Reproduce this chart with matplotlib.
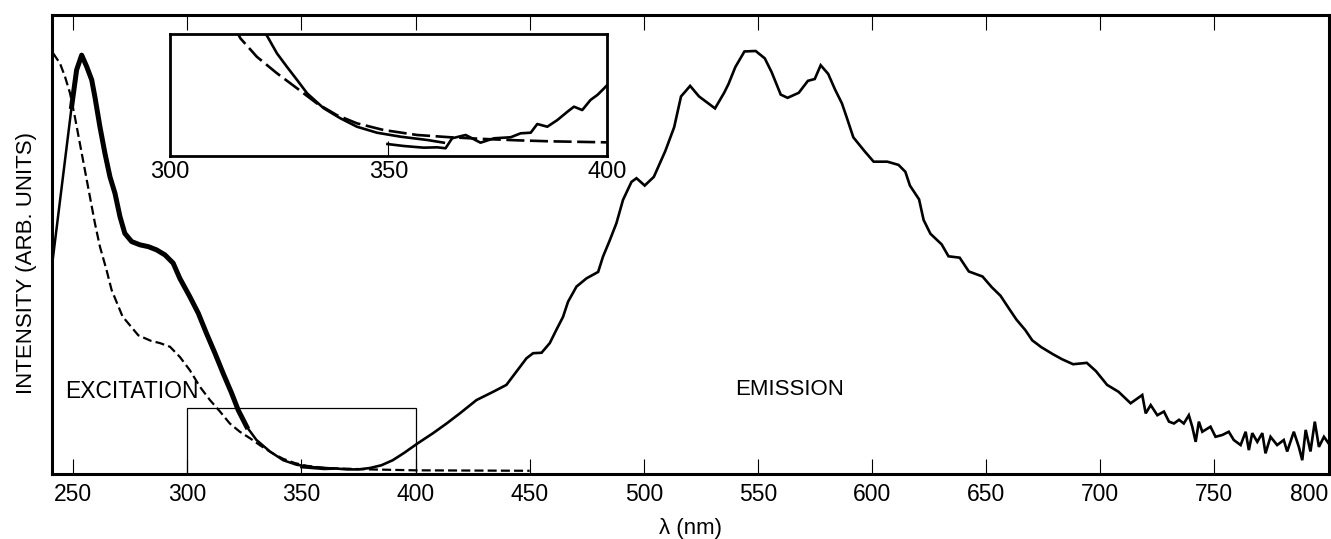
import matplotlib
matplotlib.use("Agg")
import matplotlib.pyplot as plt
from matplotlib.patches import Rectangle
import numpy as np

plt.rcParams['font.family'] = ['Liberation Sans', 'DejaVu Sans']
plt.rcParams['lines.scale_dashes'] = False

# ---------------- data ----------------
# Excitation spectrum, solid trace (nm, arb. units)
exc_solid_nm = [241.0, 249.3, 251.5, 253.7, 255.9, 258.1, 259.5, 261.7, 263.9, 266.1,
                268.3, 270.5, 272.6, 275.6, 279.2, 282.9, 286.5, 290.2, 293.8, 296.7,
                301.1, 304.8, 308.4, 312.1, 315.7, 319.4, 322.3, 326.0, 330.3, 336.2,
                342.0, 347.9, 355.1, 363.9]
exc_solid_val = [46.6, 80.0, 88.0, 91.2, 88.7, 85.8, 82.1, 75.6, 69.8, 64.7,
                 61.1, 56.0, 52.4, 50.6, 49.9, 49.5, 48.8, 47.7, 45.9, 42.6,
                 38.6, 35.0, 30.6, 26.3, 21.9, 17.6, 13.9, 10.3, 7.4, 4.9,
                 3.0, 2.0, 1.5, 1.2]

# Excitation spectrum, dashed trace
exc_dash_nm = [241.2, 244.2, 246.4, 248.6, 250.7, 252.9, 255.1, 257.3, 259.5, 261.7,
               264.6, 266.8, 271.6, 278.5, 284.0, 288.0, 292.4, 296.7, 301.1, 305.5,
               309.9, 314.3, 318.6, 323.0, 327.4, 332.0, 337.0, 342.0, 347.0, 352.0,
               360.0, 380.0, 400.0, 450.0]
exc_dash_val = [91.6, 89.4, 86.5, 82.9, 77.8, 72.0, 66.2, 60.4, 54.6, 49.5,
                44.4, 40.1, 34.3, 30.2, 29.0, 28.5, 27.7, 25.5, 22.6, 19.0,
                16.1, 13.6, 11.0, 9.2, 7.8, 6.2, 4.6, 3.3, 2.4, 1.8,
                1.3, 1.0, 0.8, 0.7]

# Emission spectrum
em_nm = [350.0, 355.0, 360.0, 365.0, 370.0, 375.0, 380.0, 385.0, 390.0, 395.0,
         401.0, 407.7, 413.6, 419.4, 426.7, 434.0, 439.8, 444.2, 448.6, 451.5,
         455.2, 458.8, 461.7, 464.6, 466.8, 470.5, 474.9, 480.0, 482.1, 485.1,
         488.0, 490.9, 494.6, 496.8, 500.4, 504.4, 509.4, 513.3, 516.3, 520.3,
         524.2, 528.2, 531.2, 535.2, 537.1, 540.1, 544.1, 549.0, 553.0, 556.0,
         560.0, 563.0, 567.9, 571.9, 574.9, 577.5, 580.8, 583.8, 586.8, 588.8,
         591.8, 596.7, 600.7, 606.7, 611.6, 614.6, 616.6, 620.6, 622.6, 625.6,
         630.5, 633.5, 638.4, 642.4, 648.4, 652.4, 656.3, 660.3, 663.3, 667.2,
         670.2, 674.2, 679.2, 683.2, 688.1, 694.1, 698.1, 703.0, 708.0, 713.3,
         718.4, 719.9, 722.1, 725.0, 727.9, 730.1, 732.3, 734.5, 736.6, 738.8,
         740.3, 741.8, 743.2, 744.7, 748.3, 750.5, 753.5, 756.3, 758.5, 761.5,
         763.7, 765.1, 766.6, 768.8, 771.0, 772.4, 774.6, 777.5, 780.4, 781.9,
         784.8, 787.0, 788.5, 790.0, 792.1, 794.0, 795.8, 798.0, 800.0]
em_val = [1.5, 1.3, 1.1, 1.2, 1.0, 1.0, 1.3, 1.9, 3.0, 4.6,
          6.7, 8.9, 11.0, 13.2, 16.1, 17.9, 19.4, 22.3, 25.2, 26.3,
          26.4, 28.5, 31.4, 34.2, 37.5, 40.8, 42.6, 44.0, 47.3, 50.9,
          54.6, 59.7, 63.6, 64.4, 62.8, 64.7, 70.3, 75.5, 82.2, 84.5,
          82.2, 80.7, 79.6, 83.0, 84.9, 88.6, 92.0, 92.1, 90.5, 87.5,
          82.6, 81.9, 83.0, 85.6, 86.0, 89.0, 87.1, 83.7, 80.7, 77.8,
          73.3, 70.3, 68.0, 68.0, 67.3, 65.8, 62.8, 59.8, 55.3, 52.3,
          50.0, 47.4, 47.1, 44.1, 43.0, 40.7, 38.8, 35.8, 33.6, 31.3,
          29.1, 27.6, 26.1, 25.0, 23.9, 24.2, 22.4, 19.4, 17.9, 15.4,
          17.2, 13.2, 15.0, 12.8, 13.6, 11.4, 11.0, 11.8, 11.0, 12.8,
          10.3, 7.0, 11.4, 9.2, 10.3, 8.1, 8.5, 9.2, 7.4, 6.3,
          9.2, 5.2, 8.9, 7.0, 8.9, 4.5, 8.1, 6.3, 7.4, 4.9,
          9.2, 5.9, 3.0, 9.6, 4.9, 11.4, 5.9, 8.1, 6.7]

# Inset (300-400 nm, expanded) traces
ins_exc_nm = [321.0, 322.2, 324.5, 326.8, 329.1, 331.4, 335.2, 339.0, 342.8, 347.4,
              352.8, 358.9, 362.7]
ins_exc_val = [15.5, 14.2, 12.1, 10.5, 8.96, 7.38, 5.61, 4.43, 3.43, 2.72,
               2.25, 1.86, 1.54]
ins_em_nm = [349.8, 353.5, 358.1, 361.2, 363.1, 364.6, 367.7, 371.1, 374.2, 378.0,
             380.3, 382.6, 384.1, 386.4, 388.7, 391.0, 392.5, 394.4, 396.3, 397.9,
             399.4, 400.0]
ins_em_val = [1.38, 1.15, 0.95, 0.99, 0.88, 2.06, 2.45, 1.54, 2.06, 2.18,
              2.65, 2.72, 3.75, 3.43, 4.22, 5.2, 5.8, 5.4, 6.6, 7.2,
              7.97, 8.3]
ins_dash_nm = [315.0, 316.1, 319.9, 324.5, 329.1, 333.6, 338.2, 342.8, 348.9, 356.6,
               364.2, 371.9, 379.5, 387.2, 399.0, 400.0]
ins_dash_val = [15.0, 13.9, 11.7, 9.75, 7.97, 6.2, 4.8, 3.83, 3.04, 2.45,
                2.18, 1.98, 1.82, 1.70, 1.59, 1.58]

x_ticks = [250, 300, 350, 400, 450, 500, 550, 600, 650, 700, 750, 800]
inset_ticks = [300, 350, 400]
inset_xlim = (300, 400)
inset_ylim = (0, 14.4)

# ---------------- figure ----------------
W, H = 1331, 539
fig = plt.figure(figsize=(W / 100, H / 100), dpi=100)
ax = fig.add_axes([52 / W, (H - 474) / H, (1328.5 - 52) / W, (474 - 14.7) / H])

ax.set_xlim(240.7, 800.0)
ax.set_ylim(0, 100)

exc_nm = np.array(exc_solid_nm)
exc_v = np.array(exc_solid_val)
ax.plot(exc_nm, exc_v, color='black', lw=1.8, solid_joinstyle='round')
band = (exc_nm >= 249) & (exc_nm <= 330)
ax.plot(exc_nm[band], exc_v[band], color='black', lw=3.6, solid_joinstyle='round')

ld, = ax.plot(exc_dash_nm, exc_dash_val, color='black', lw=1.6)
ld.set_dashes([6.5, 3.0])

ax.plot(em_nm, em_val, color='black', lw=1.9, solid_joinstyle='miter')

ax.add_patch(Rectangle((inset_xlim[0], inset_ylim[0]), inset_xlim[1] - inset_xlim[0],
                       inset_ylim[1] - inset_ylim[0], fill=False, lw=0.9,
                       edgecolor='black'))

ax.text(246.4, 17.9, 'EXCITATION', fontsize=16.5, ha='left', va='center')
ax.text(563.7, 18.4, 'EMISSION', fontsize=16, ha='center', va='center')

ax.set_xticks(x_ticks)
ax.set_xticklabels([str(t) for t in x_ticks])
ax.set_yticks([])
ax.tick_params(axis='x', which='both', direction='in', length=11, width=0.8,
               top=True, bottom=True, labelsize=16.5, pad=6.5)
lbls = ax.get_xticklabels()
lbls[-1].set_horizontalalignment('right')
for s in ax.spines.values():
    s.set_linewidth(2.2)

ax.set_xlabel('λ (nm)', fontsize=16)
ax.xaxis.set_label_coords(0.5, -0.096)
ax.set_ylabel('INTENSITY (ARB. UNITS)', fontsize=16, va='center')
ax.yaxis.set_label_coords(-0.0198, 0.459)

# ---------------- inset ----------------
axi = fig.add_axes([170 / W, (H - 155.7) / H, (606.7 - 170) / W, (155.7 - 34) / H])
axi.set_xlim(*inset_xlim)
axi.set_ylim(*inset_ylim)
axi.plot(ins_exc_nm, ins_exc_val, color='black', lw=1.9)
axi.plot(ins_em_nm, ins_em_val, color='black', lw=1.9)
li, = axi.plot(ins_dash_nm, ins_dash_val, color='black', lw=1.9)
li.set_dashes([13, 4])
axi.set_xticks(inset_ticks)
axi.set_yticks([])
axi.tick_params(axis='x', direction='in', length=11, width=0.8, labelsize=17, pad=4)
for s in axi.spines.values():
    s.set_linewidth(2.0)

fig.savefig('out.png', dpi=100)
